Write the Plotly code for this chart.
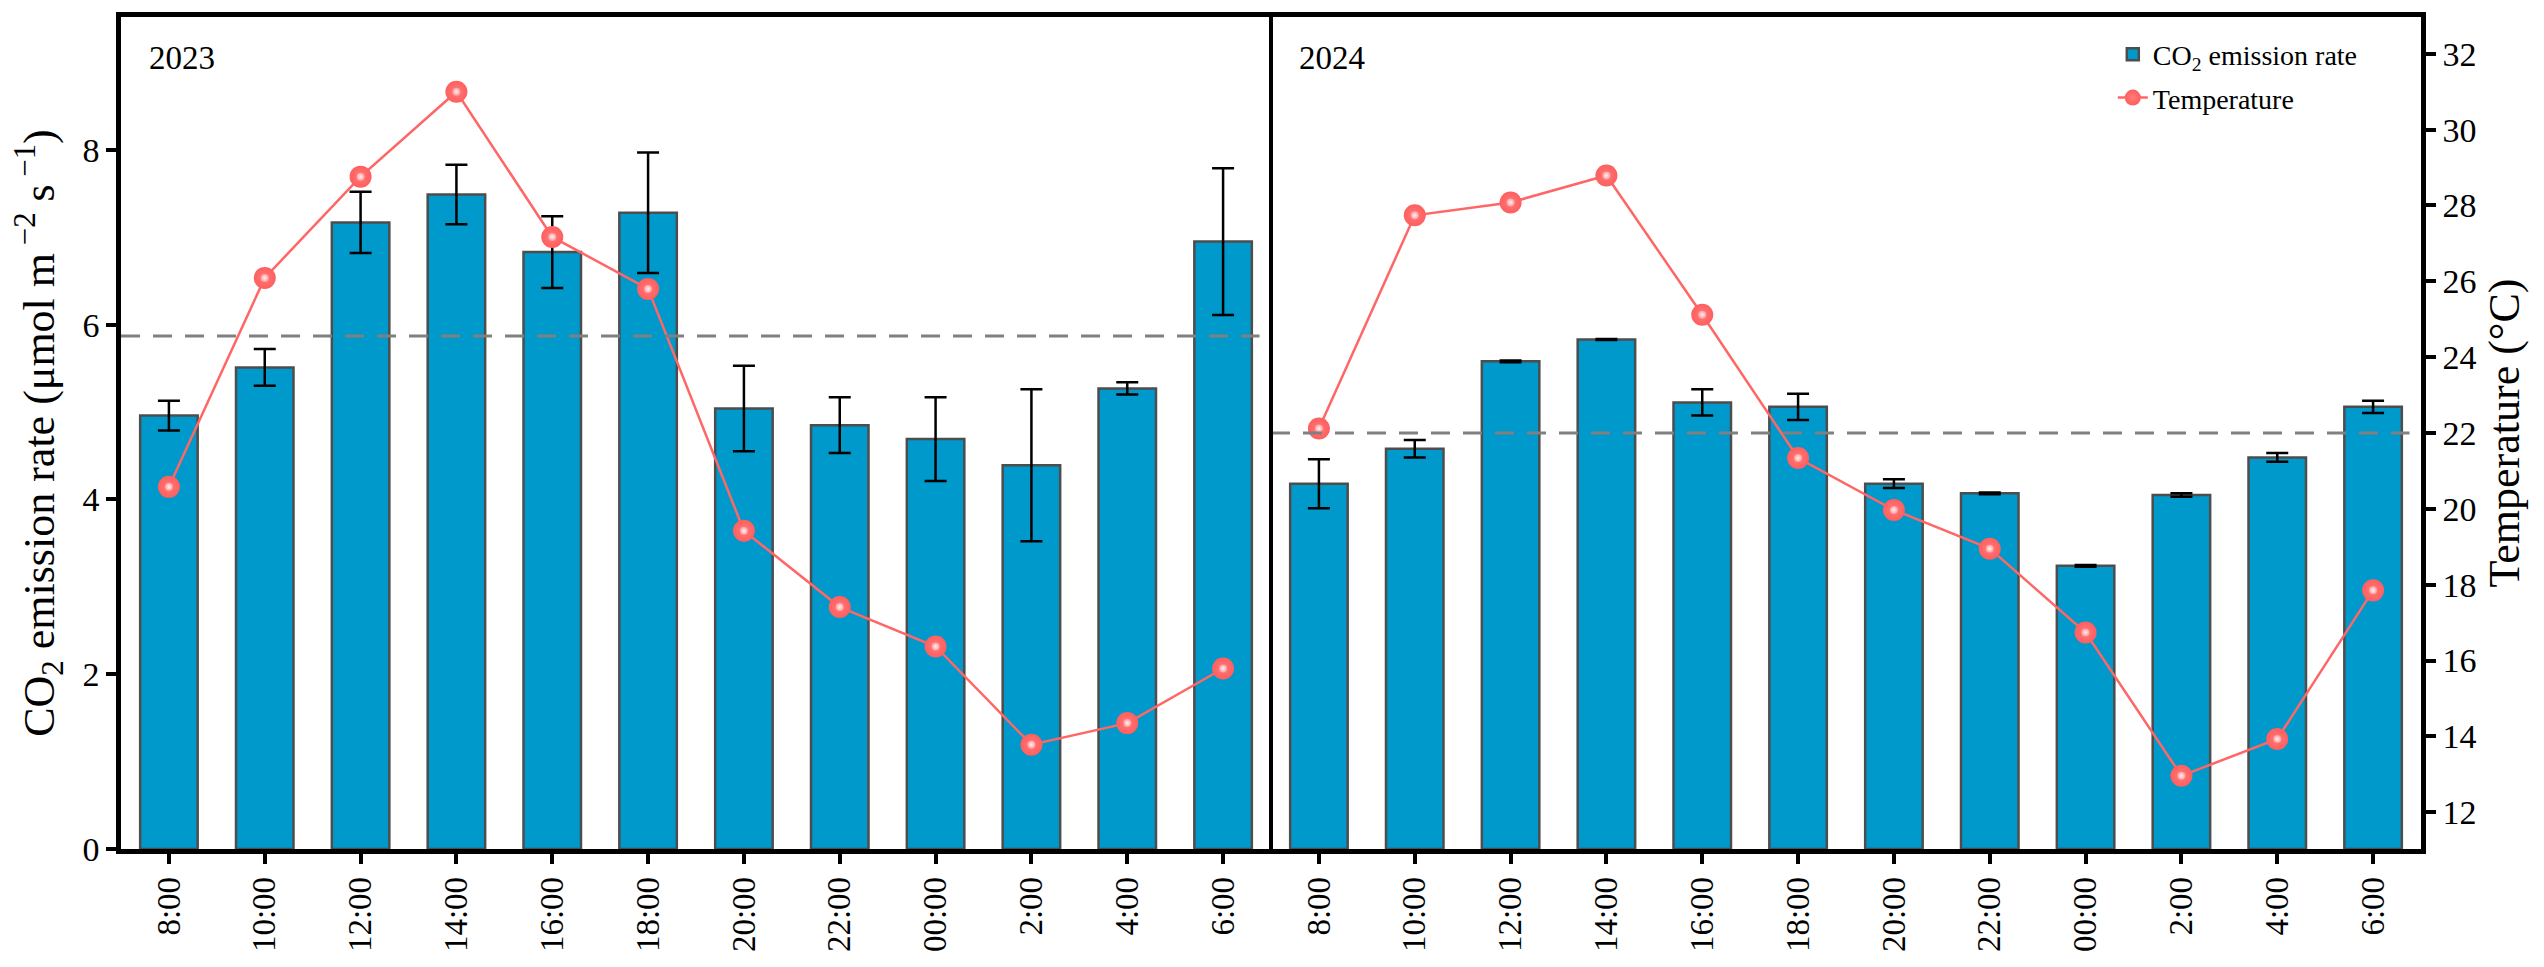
import plotly.graph_objects as go

# ---------------- data ----------------
time_labels = ["8:00", "10:00", "12:00", "14:00", "16:00", "18:00",
               "20:00", "22:00", "00:00", "2:00", "4:00", "6:00"]

co2_2023 = [4.96, 5.51, 7.17, 7.49, 6.83, 7.28, 5.04, 4.85, 4.69, 4.39, 5.27, 6.95]
co2_2023_err = [0.17, 0.21, 0.35, 0.34, 0.41, 0.69, 0.49, 0.32, 0.48, 0.87, 0.07, 0.84]
temp_2023 = [20.58, 26.09, 28.76, 31.0, 27.17, 25.8, 19.42, 17.41, 16.37, 13.78, 14.35, 15.79]

co2_2024 = [4.18, 4.58, 5.58, 5.83, 5.11, 5.06, 4.18, 4.07, 3.24, 4.05, 4.48, 5.06]
co2_2024_err = [0.28, 0.10, 0.01, 0.005, 0.15, 0.15, 0.05, 0.01, 0.01, 0.02, 0.05, 0.07]
temp_2024 = [22.12, 27.74, 28.08, 28.79, 25.12, 21.34, 19.97, 18.95, 16.74, 12.96, 13.93, 17.85]

ref_2023 = 5.87
ref_2024 = 4.76

year_labels = ["2023", "2024"]
bar_name = "CO<sub>2</sub> emission rate"
temp_name = "Temperature"

# ---------------- styles ----------------
FONT = "Liberation Serif"
BAR_COLOR = "#0099CC"
BAR_EDGE = "#4D4D4D"
LINE_COLOR = "#FF6666"
AX_W = 4.5

fig = go.Figure()

for i, (co2, err, xa) in enumerate([
        (co2_2023, co2_2023_err, "x"),
        (co2_2024, co2_2024_err, "x2")]):
    fig.add_trace(go.Bar(
        x=time_labels, y=co2, xaxis=xa, yaxis="y",
        name=bar_name, showlegend=(i == 0), legendgroup="bar",
        width=0.6,
        marker=dict(color=BAR_COLOR, line=dict(color=BAR_EDGE, width=2.5)),
        error_y=dict(type="data", array=err, visible=True,
                     color="black", thickness=2.5, width=11),
    ))

for i, (temp, xa) in enumerate([(temp_2023, "x"), (temp_2024, "x2")]):
    fig.add_trace(go.Scatter(
        x=time_labels, y=temp, xaxis=xa, yaxis="y2",
        name=temp_name, showlegend=(i == 0), legendgroup="temp",
        mode="lines+markers",
        line=dict(color=LINE_COLOR, width=2.5),
        marker=dict(size=22, color="#FF5E5E",
                    gradient=dict(type="radial", color="#FF7A7A"),
                    line=dict(width=0)),
    ))
    # specular highlight on the spherical markers
    fig.add_trace(go.Scatter(
        x=time_labels, y=temp, xaxis=xa, yaxis="y2",
        showlegend=False, legendgroup="temp", hoverinfo="skip",
        mode="markers",
        marker=dict(size=8, color="#FF9C9C",
                    gradient=dict(type="radial", color="#FFF2F2"),
                    line=dict(width=0)),
    ))

tickfont = dict(family=FONT, size=34, color="black")

xcommon = dict(
    type="category", showline=True, linecolor="black", linewidth=AX_W,
    mirror=True, ticks="outside", ticklen=10, tickwidth=4, tickcolor="black",
    tickangle=-90, tickfont=dict(family=FONT, size=33, color="black"),
    showgrid=False, zeroline=False, range=[-0.5, 11.5],
)

fig.update_layout(
    width=2544, height=967,
    margin=dict(l=121, r=123, t=12, b=118),
    paper_bgcolor="white", plot_bgcolor="white",
    font=dict(family=FONT, color="black"),
    bargap=0.4,
    xaxis=dict(domain=[0, 0.5], anchor="y", **xcommon),
    xaxis2=dict(domain=[0.5, 1], anchor="y", **xcommon),
    yaxis=dict(
        anchor="x", range=[0, 9.52], tick0=0, dtick=2,
        showline=True, linecolor="black", linewidth=AX_W,
        ticks="outside", ticklen=10, tickwidth=4, tickcolor="black",
        tickfont=tickfont, showgrid=False, zeroline=False,
        title=dict(text="CO<sub>2</sub> emission rate (μmol m<sup> −2</sup> s<sup> −1</sup>)",
                   font=dict(family=FONT, size=44, color="black"), standoff=16),
    ),
    yaxis2=dict(
        anchor="x2", overlaying="y", side="right", range=[11.03, 32.97],
        tick0=12, dtick=2,
        showline=True, linecolor="black", linewidth=AX_W,
        ticks="outside", ticklen=10, tickwidth=4, tickcolor="black",
        tickfont=tickfont, showgrid=False, zeroline=False,
        title=dict(text="Temperature (°C)",
                   font=dict(family=FONT, size=44, color="black"), standoff=14),
    ),
    legend=dict(
        x=0.866, y=0.985, xanchor="left", yanchor="top",
        bgcolor="rgba(0,0,0,0)", borderwidth=0,
        font=dict(family=FONT, size=28, color="black"),
        tracegroupgap=4,
    ),
    showlegend=True,
)

# reference (mean) dashed lines
for ref, xr in [(ref_2023, "x domain"), (ref_2024, "x2 domain")]:
    fig.add_shape(type="line", xref=xr, yref="y", x0=0, x1=0.99, y0=ref, y1=ref,
                  line=dict(color="#808080", width=3, dash="19px,13px"), layer="above")

# panel divider
fig.add_shape(type="line", xref="paper", yref="paper", x0=0.5, x1=0.5, y0=0, y1=1,
              line=dict(color="black", width=4), layer="above")

# panel year labels
for yr, xr in zip(year_labels, ["x domain", "x2 domain"]):
    fig.add_annotation(text=yr, xref=xr, yref="paper", x=0.023, y=0.951,
                       xanchor="left", yanchor="middle", showarrow=False,
                       font=dict(family=FONT, size=33, color="black"))

fig.write_html("out.html", config={"displayModeBar": False},
               post_script="document.body.style.margin='0';document.body.style.overflow='hidden';")
